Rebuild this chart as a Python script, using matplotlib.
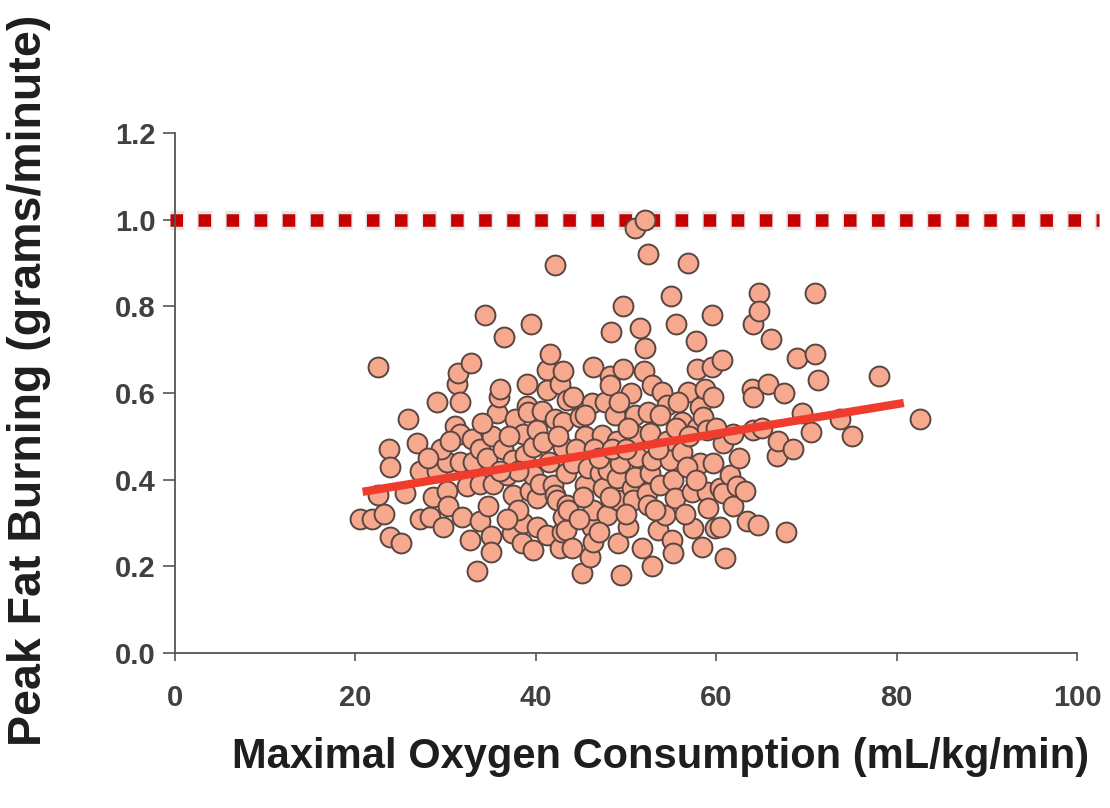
import matplotlib
matplotlib.use("Agg")
import matplotlib.pyplot as plt

# ---- data ----
vo2 = [20.5, 21.8, 22.5, 22.5, 23.2, 23.7, 23.8, 23.8, 25.0, 25.5, 25.8, 26.8, 27.2, 27.2,
       28.3, 28.6, 29.0, 29.0, 29.7, 30.1, 30.1, 30.3, 31.0, 31.3, 31.4, 31.6, 31.6, 31.6,
       31.8, 32.4, 32.7, 32.8, 32.9, 33.0, 33.5, 33.8, 33.8, 33.8, 34.4, 34.6, 34.7, 35.0,
       35.0, 35.1, 35.3, 35.7, 35.9, 36.0, 36.4, 36.5, 37.4, 37.5, 37.5, 37.7, 38.5, 38.6,
       38.6, 38.8, 39.0, 39.0, 39.1, 39.4, 39.5, 39.7, 39.7, 39.7, 40.1, 40.1, 40.1, 40.5,
       40.7, 40.8, 41.2, 41.2, 41.2, 41.6, 41.9, 42.1, 42.1, 42.1, 42.3, 42.7, 42.7, 42.9,
       43.0, 43.0, 43.0, 43.0, 43.4, 43.4, 43.5, 43.5, 43.6, 44.0, 44.1, 44.1, 44.9, 45.1,
       45.5, 45.5, 45.8, 46.0, 46.2, 46.2, 46.3, 46.3, 46.3, 47.1, 47.3, 47.5, 47.7, 47.9,
       48.0, 48.2, 48.2, 48.3, 48.8, 49.0, 49.0, 49.1, 49.1, 49.3, 49.5, 49.7, 49.7, 50.2,
       50.7, 50.8, 51.0, 51.0, 51.0, 51.0, 51.2, 51.6, 51.8, 52.0, 52.1, 52.1, 52.3, 52.4,
       52.4, 52.4, 52.7, 52.7, 52.9, 52.9, 52.9, 53.5, 53.8, 54.0, 54.3, 54.5, 54.5, 54.9,
       55.0, 55.1, 55.2, 55.2, 55.4, 55.5, 56.2, 56.2, 56.9, 56.9, 57.3, 57.4, 57.8, 57.9,
       57.9, 58.2, 58.2, 58.4, 58.5, 58.8, 59.0, 59.0, 59.1, 59.5, 59.5, 59.6, 59.6, 59.9,
       60.4, 60.4, 60.6, 60.8, 60.8, 61.0, 61.5, 61.9, 61.9, 62.3, 63.2, 63.4, 64.0, 64.1,
       64.1, 64.1, 64.6, 64.7, 64.8, 65.1, 65.7, 66.1, 66.7, 66.9, 67.5, 67.7, 68.5, 69.0,
       69.5, 70.5, 71.0, 71.0, 71.3, 73.7, 75.0, 78.0, 82.6,
       36.8, 37.0, 38.0, 41.5, 42.5, 44.5, 46.5, 47.0, 48.5, 50.0, 50.2, 53.5, 55.5, 56.8,
       57.8, 45.2, 48.2, 53.2, 56.5, 44.8, 50.0, 47.0, 53.8, 45.5, 29.5, 28.0, 34.0, 30.5,
       36.0, 38.0, 36.8, 60.0, 62.5, 57.0, 55.8, 50.5, 49.2]

fat = [0.31, 0.31, 0.66, 0.365, 0.32, 0.47, 0.43, 0.268, 0.254, 0.37, 0.54, 0.485, 0.42, 0.31,
       0.315, 0.36, 0.58, 0.42, 0.29, 0.44, 0.375, 0.34, 0.525, 0.62, 0.645, 0.58, 0.505, 0.44,
       0.315, 0.385, 0.26, 0.67, 0.495, 0.44, 0.19, 0.47, 0.39, 0.305, 0.78, 0.45, 0.34, 0.27,
       0.233, 0.50, 0.39, 0.555, 0.59, 0.61, 0.47, 0.73, 0.277, 0.445, 0.365, 0.54, 0.254, 0.505,
       0.30, 0.457, 0.62, 0.57, 0.556, 0.375, 0.76, 0.475, 0.41, 0.238, 0.515, 0.357, 0.29, 0.39,
       0.558, 0.487, 0.653, 0.607, 0.272, 0.69, 0.387, 0.895, 0.54, 0.365, 0.353, 0.62, 0.242, 0.28,
       0.65, 0.533, 0.475, 0.314, 0.415, 0.284, 0.584, 0.342, 0.33, 0.242, 0.59, 0.438, 0.545, 0.185,
       0.50, 0.388, 0.427, 0.222, 0.577, 0.29, 0.66, 0.256, 0.33, 0.415, 0.503, 0.38, 0.58, 0.318,
       0.422, 0.64, 0.618, 0.74, 0.55, 0.49, 0.404, 0.353, 0.254, 0.438, 0.18, 0.80, 0.655, 0.29,
       0.38, 0.353, 0.98, 0.55, 0.503, 0.406, 0.452, 0.75, 0.242, 0.65, 1.0, 0.705, 0.369, 0.92,
       0.556, 0.342, 0.507, 0.415, 0.618, 0.445, 0.20, 0.284, 0.388, 0.603, 0.318, 0.572, 0.49, 0.445,
       0.825, 0.26, 0.23, 0.40, 0.358, 0.76, 0.533, 0.464, 0.90, 0.603, 0.372, 0.288, 0.72, 0.655,
       0.519, 0.568, 0.438, 0.245, 0.545, 0.61, 0.515, 0.372, 0.335, 0.78, 0.66, 0.59, 0.438, 0.288,
       0.38, 0.29, 0.675, 0.485, 0.37, 0.22, 0.41, 0.505, 0.34, 0.385, 0.375, 0.305, 0.61, 0.76,
       0.59, 0.515, 0.295, 0.83, 0.79, 0.52, 0.62, 0.725, 0.455, 0.49, 0.60, 0.28, 0.47, 0.68,
       0.555, 0.51, 0.83, 0.69, 0.63, 0.54, 0.50, 0.64, 0.54,
       0.41, 0.50, 0.42, 0.44, 0.50, 0.47, 0.47, 0.45, 0.47, 0.47, 0.52, 0.47, 0.52, 0.43,
       0.40, 0.36, 0.36, 0.33, 0.32, 0.31, 0.32, 0.28, 0.55, 0.55, 0.47, 0.45, 0.53, 0.49,
       0.42, 0.33, 0.31, 0.52, 0.45, 0.50, 0.58, 0.60, 0.58]

fit_x = [20.8, 80.8]          # trend line end points
fit_y = [0.372, 0.577]
ref_x = [-0.6, 102.4]         # 1.0 g/min reference line
ref_y = [1.0, 1.0]

x_ticks = [0, 20, 40, 60, 80, 100]
y_ticks = [0.0, 0.2, 0.4, 0.6, 0.8, 1.0, 1.2]
y_tick_labels = ["0.0", "0.2", "0.4", "0.6", "0.8", "1.0", "1.2"]
x_label = "Maximal Oxygen Consumption (mL/kg/min)"
y_label = "Peak Fat Burning (grams/minute)"

plt.rcParams['font.family'] = ['Liberation Sans', 'DejaVu Sans']

W, H = 1110, 808
fig = plt.figure(figsize=(W / 100, H / 100), dpi=100)
ax = fig.add_axes([175 / W, (H - 653) / H, (1077 - 175) / W, (653 - 133) / H])
ax.set_xlim(0, 100)
ax.set_ylim(0, 1.2)

# reference line: red squares (9pt on, 11.2pt off) with a soft grey halo on each square
halo_lw = 14.0
ax.plot(ref_x, ref_y, color='#c8c8c8', lw=halo_lw, alpha=0.45,
        dash_capstyle='butt',
        linestyle=(1.0 / halo_lw, (11.0 / halo_lw, 9.2 / halo_lw)),
        zorder=1, clip_on=False)
ax.plot(ref_x, ref_y, color='#c40000', lw=9, dash_capstyle='butt',
        linestyle=(0, (1.0, 1.245)), zorder=2, clip_on=False)

ax.scatter(vo2, fat, s=205, facecolor='#f6a98f', edgecolor='#5a4640',
           linewidth=1.4, zorder=3, clip_on=False)

ax.plot(fit_x, fit_y, color='#f03c2c', lw=6, solid_capstyle='butt', zorder=4)

for s in ['top', 'right']:
    ax.spines[s].set_visible(False)
for s in ['left', 'bottom']:
    ax.spines[s].set_color('#555555')
    ax.spines[s].set_linewidth(1.3)

ax.set_xticks(x_ticks)
ax.set_xticklabels([str(v) for v in x_ticks])
ax.set_yticks(y_ticks)
ax.set_yticklabels(y_tick_labels)
ax.tick_params(axis='y', direction='out', length=9, width=1.2, color='#555555',
               pad=5, labelsize=21, labelcolor='#404040')
ax.tick_params(axis='x', direction='out', length=6, width=1.2, color='#555555',
               pad=16, labelsize=21, labelcolor='#404040')
for lab in ax.get_xticklabels() + ax.get_yticklabels():
    lab.set_fontweight('bold')

fig.text(661 / W, 1 - 757 / H, x_label, ha='center', va='center',
         fontsize=30, fontweight='bold', color='#1e1e1e')
fig.text(29 / W, 1 - 380 / H, y_label, ha='center', va='center', rotation=90,
         fontsize=33.5, fontweight='bold', color='#1e1e1e')

fig.savefig('out.png', dpi=100, facecolor='white')
